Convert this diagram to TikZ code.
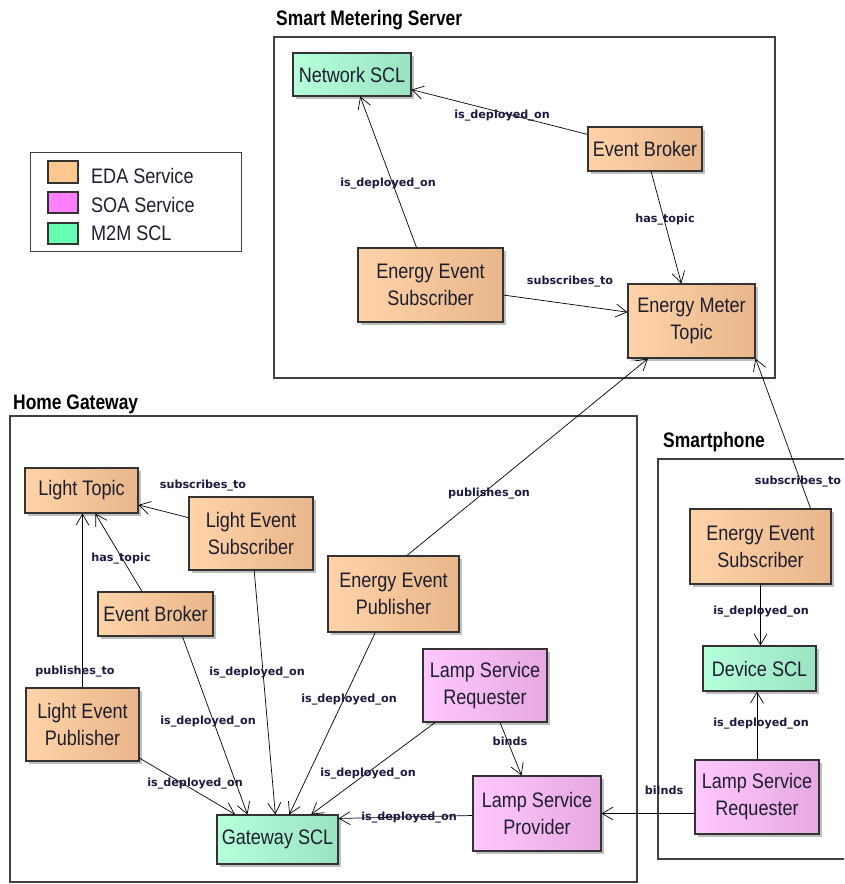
\documentclass[tikz,border=0pt]{standalone}
\usepackage{fontspec}
\setmainfont{Liberation Sans}[FakeStretch=0.86]
\newfontfamily\titlefont{Liberation Sans}[FakeStretch=0.83]
\newfontfamily\labfont{DejaVu Sans}
\usetikzlibrary{arrows.meta,shadows,calc}
\definecolor{edaL}{HTML}{FFD3A8}
\definecolor{edaR}{HTML}{E8B68A}
\definecolor{soaL}{HTML}{FFC8FF}
\definecolor{soaR}{HTML}{E6A8E0}
\definecolor{sclL}{HTML}{B5FFDB}
\definecolor{sclR}{HTML}{9BE3C2}
\definecolor{edaS}{HTML}{FFC891}
\definecolor{soaS}{HTML}{FF80FF}
\definecolor{sclS}{HTML}{66FFB3}
\definecolor{textc}{HTML}{1E1E2E}
\definecolor{labc}{HTML}{1A1A40}
\begin{document}
\begin{tikzpicture}[x=1pt,y=-1pt,
  container/.style={draw=black!75, line width=1.2pt},
  svc/.style={draw=black!80, line width=1.1pt, inner sep=0pt, align=center,
    font=\fontsize{21}{27}\selectfont, text=textc,
    drop shadow={shadow xshift=3pt,shadow yshift=-3pt,fill=black!25,opacity=1}},
  eda/.style={svc, left color=edaL, right color=edaR},
  soa/.style={svc, left color=soaL, right color=soaR},
  scl/.style={svc, left color=sclL, right color=sclR},
  lab/.style={font=\labfont\bfseries\fontsize{11.2}{13}\selectfont, text=labc, inner sep=0pt},
  ttl/.style={font=\titlefont\bfseries\fontsize{21}{25}\selectfont, anchor=base west, inner sep=0pt},
  legtxt/.style={font=\fontsize{21}{25}\selectfont, anchor=base west, inner sep=0pt, text=textc},
  swatch/.style={draw=black!80, line width=1.1pt},
  rel/.style={-{Straight Barb[length=11pt,width=13pt]}, line width=0.7pt, black}]
\useasboundingbox (0,0) rectangle (844,884);
\clip (0,0) rectangle (844,884);

% containers
\draw[container] (274,37) rectangle (775,378);
\draw[container] (10,416) rectangle (637,882);
\draw[container] (658,459) rectangle (900,859);
\node[ttl] (tsms) at (276,25) {Smart Metering Server};
\node[ttl] (thg) at (13,409) {Home Gateway};
\node[ttl] (tsp) at (663,447) {Smartphone};

% legend
\draw[draw=black!75, line width=1pt] (30,152) rectangle (241,251);
\draw[swatch, fill=edaS] (48,161) rectangle (78,183);
\draw[swatch, fill=soaS] (48,192) rectangle (78,213);
\draw[swatch, fill=sclS] (48,223) rectangle (78,244);
\node[legtxt] (leda) at (91,183) {EDA Service};
\node[legtxt] (lsoa) at (91,212) {SOA Service};
\node[legtxt] (lscl) at (91,240) {M2M SCL};

% Smart Metering Server nodes
\node[scl, minimum width=118pt, minimum height=43pt] (nscl) at (352,74.5) {Network SCL};
\node[eda, minimum width=114pt, minimum height=44pt] (ebs) at (645,149) {Event Broker};
\node[eda, minimum width=145pt, minimum height=74pt] (eess) at (430.5,285) {Energy Event\\Subscriber};
\node[eda, minimum width=127pt, minimum height=74pt] (emt) at (691.5,321) {Energy Meter\\Topic};

% Home Gateway nodes
\node[eda, minimum width=113pt, minimum height=45pt] (lt) at (81.5,490.5) {Light Topic};
\node[eda, minimum width=124pt, minimum height=73pt] (les) at (251,533.5) {Light Event\\Subscriber};
\node[eda, minimum width=115pt, minimum height=44pt] (ebh) at (155.5,614) {Event Broker};
\node[eda, minimum width=113pt, minimum height=73pt] (lep) at (82.5,724.5) {Light Event\\Publisher};
\node[scl, minimum width=121pt, minimum height=49pt] (gw) at (277.5,839.5) {Gateway SCL};
\node[eda, minimum width=131pt, minimum height=76pt] (eep) at (393.5,594) {Energy Event\\Publisher};
\node[soa, minimum width=124pt, minimum height=73pt] (lsrh) at (485,685.5) {Lamp Service\\Requester};
\node[soa, minimum width=128pt, minimum height=75pt] (lsp) at (537,813.5) {Lamp Service\\Provider};

% Smartphone nodes
\node[eda, minimum width=141pt, minimum height=75pt] (eesp) at (760.5,546.5) {Energy Event\\Subscriber};
\node[scl, minimum width=113pt, minimum height=45pt] (dscl) at (759.5,668.5) {Device SCL};
\node[soa, minimum width=124pt, minimum height=74pt] (lsrp) at (757,797) {Lamp Service\\Requester};

% connectors
\draw[rel] (ebs) -- (nscl);
\draw[rel] (eess) -- (nscl);
\draw[rel] (ebs) -- (emt);
\draw[rel] (eess) -- (emt);
\draw[rel] ($(eep.north)+(13.5,0)$) -- ($(emt.south)+(-43.5,0)$);
\draw[rel] ($(eesp.north east)+(-21,0)$) -- (emt.south east);
\draw[rel] (les) -- (lt);
\draw[rel] (ebh) -- (lt);
\draw[rel] (lep.north) -- (lep.north |- lt.south);
\draw[rel] (lep) -- (gw);
\draw[rel] ($(ebh.south west)+(85,0)$) -- ($(gw.north west)+(31,0)$);
\draw[rel] (les) -- (gw);
\draw[rel] (eep) -- (gw);
\draw[rel] (lsrh) -- (gw);
\draw[rel] ($(lsp.west)+(0,2)$) -- ($(gw.north east)+(0,4)$);
\draw[rel] (lsrh) -- (lsp);
\draw[rel] (lsp.east -| lsrp.west) -- (lsp.east);
\draw[rel] (eesp.south) -- (eesp.south |- dscl.north);
\draw[rel] (lsrp.north) -- (lsrp.north |- dscl.south);

% connector labels
\node[lab] (l1) at (502,116) {is\_deployed\_on};
\node[lab] (l2) at (388,184) {is\_deployed\_on};
\node[lab] (l3) at (665,220) {has\_topic};
\node[lab] (l4) at (570,282) {subscribes\_to};
\node[lab] (l5) at (489,494) {publishes\_on};
\node[lab] (l6) at (798,482) {subscribes\_to};
\node[lab] (l7) at (203,486) {subscribes\_to};
\node[lab] (l8) at (121,559) {has\_topic};
\node[lab] (l9) at (75,672) {publishes\_to};
\node[lab] (l10) at (195,784) {is\_deployed\_on};
\node[lab] (l11) at (208,722) {is\_deployed\_on};
\node[lab] (l12) at (257,673) {is\_deployed\_on};
\node[lab] (l13) at (349,700) {is\_deployed\_on};
\node[lab] (l14) at (368,774) {is\_deployed\_on};
\node[lab] (l15) at (409,818) {is\_deployed\_on};
\node[lab] (l16) at (510,741) {binds};
\node[lab] (l17) at (664,790) {bilnds};
\node[lab] (l18) at (761,612) {is\_deployed\_on};
\node[lab] (l19) at (761,724) {is\_deployed\_on};
\end{tikzpicture}
\end{document}
